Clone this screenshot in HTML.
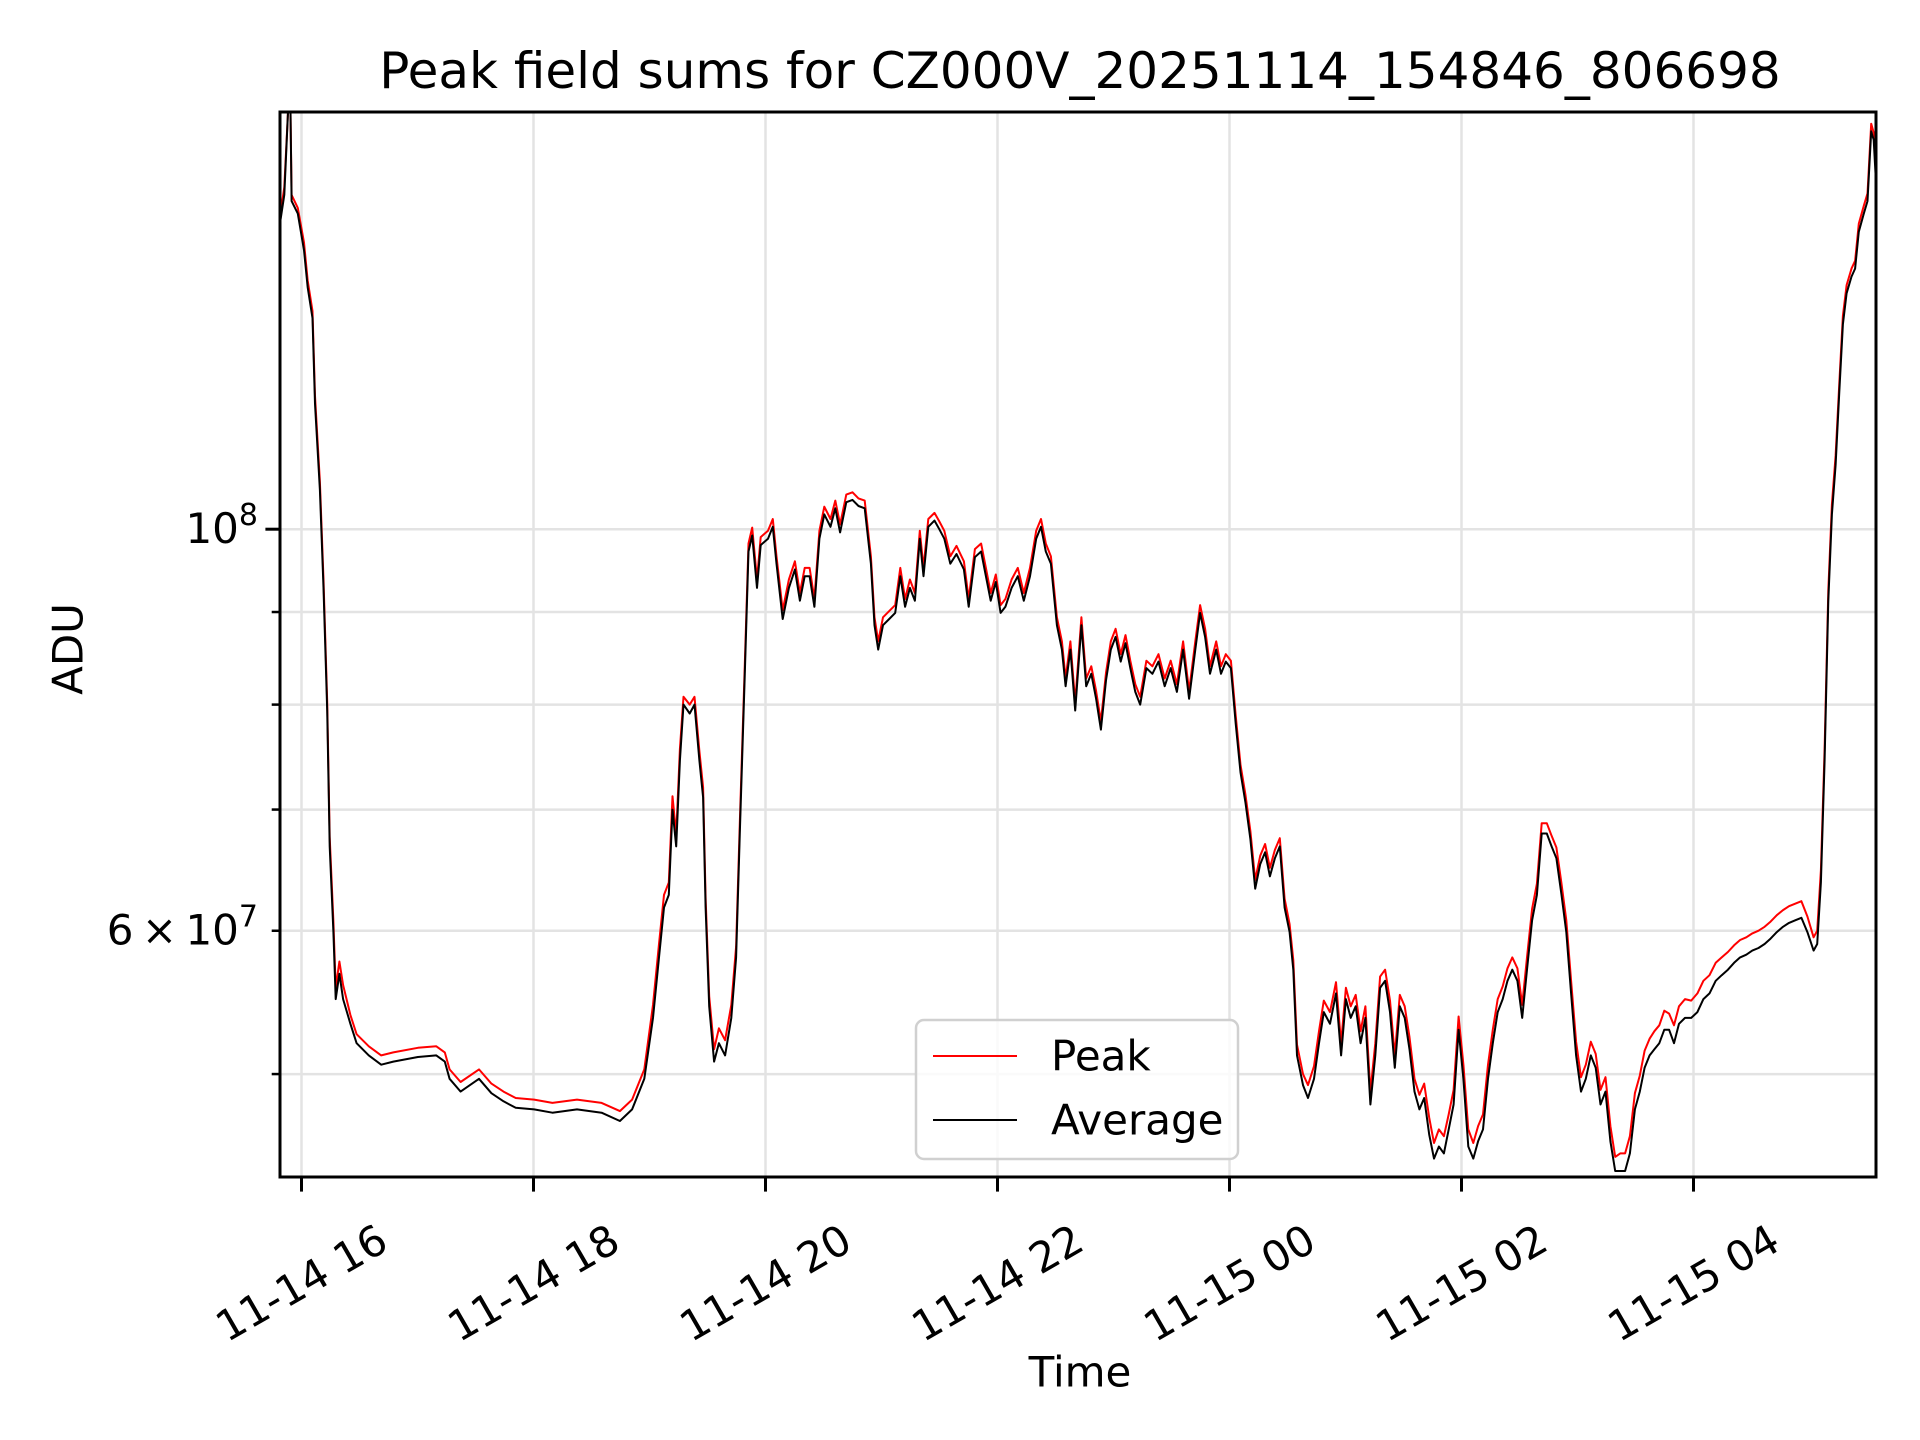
<!DOCTYPE html>
<html><head><meta charset="utf-8"><style>
html,body{margin:0;padding:0;background:#fff;}
svg{display:block;font-family:"DejaVu Sans","Liberation Sans",sans-serif;}
</style></head><body>
<svg id="chart" width="1920" height="1440" viewBox="0 0 1920 1440" xmlns="http://www.w3.org/2000/svg">
<rect width="1920" height="1440" fill="#fff"/>
<text x="1080" y="71" font-size="50" text-anchor="middle" dominant-baseline="central">Peak field sums for CZ000V_20251114_154846_806698</text>
<g id="grid"></g>
<g id="series"></g>
<rect x="280" y="112" width="1596" height="1065" fill="none" stroke="#000" stroke-width="3"/>
<g id="ticks"></g>
<text transform="translate(68,649) rotate(-90)" font-size="42" text-anchor="middle" dominant-baseline="central">ADU</text>
<text x="1080" y="1372" font-size="42" text-anchor="middle" dominant-baseline="central">Time</text>
<g transform="translate(-5,-2)">
<rect x="921" y="1022" width="322" height="139" rx="8" fill="#fff" fill-opacity="0.8" stroke="#d0d0d0" stroke-width="2.5"/>
<line x1="938" y1="1058" x2="1022" y2="1058" stroke="#ff0000" stroke-width="2"/>
<text x="1056" y="1058" font-size="42" dominant-baseline="central">Peak</text>
<line x1="938" y1="1122" x2="1022" y2="1122" stroke="#000" stroke-width="2"/>
<text x="1056" y="1122" font-size="42" dominant-baseline="central">Average</text>
</g>
</svg>
<script>
// minutes relative to 11-14 16:00
const times=[-10.8,-8.9,-7.0,-5.7,-5.1,-1.9,1.3,3.2,5.7,7.0,9.5,11.4,13.3,14.6,16.5,17.7,19.6,21.5,25.3,28.5,34.8,41.2,47.5,60.2,69.7,74.1,76.6,82.3,91.8,98.2,104.5,110.8,120.3,129.8,142.5,155.2,164.7,171.0,177.3,181.8,184.9,187.5,190.0,191.9,193.8,195.7,197.6,200.8,203.3,205.8,207.7,209.0,210.9,213.4,215.9,219.1,222.3,224.8,226.7,229.3,231.2,233.1,235.6,237.5,241.3,243.8,245.7,248.9,252.1,255.2,257.8,260.3,262.8,265.3,267.9,270.4,273.6,276.1,278.6,281.8,285.0,288.1,291.3,294.5,296.4,298.3,300.8,304.0,307.1,309.7,312.2,314.7,317.3,319.8,321.7,324.2,327.4,329.9,332.5,335.6,338.8,342.6,345.1,348.3,351.5,354.0,356.5,359.1,361.6,364.1,367.3,370.5,373.6,376.8,380.0,382.5,385.0,387.6,390.7,393.3,395.2,397.7,400.2,403.4,405.9,408.5,411.0,413.5,416.1,418.6,421.1,423.7,426.2,428.7,431.3,433.8,437.0,440.1,443.3,446.5,449.6,452.8,456.0,459.1,462.3,464.8,467.4,469.9,473.1,475.6,478.1,480.7,483.2,485.7,488.3,490.8,493.3,495.9,498.4,500.9,503.5,506.0,508.5,511.1,513.0,514.9,518.0,520.6,523.7,526.3,528.8,532.0,535.1,537.7,540.2,542.7,545.3,547.8,550.3,552.9,555.4,557.9,560.5,563.0,565.5,568.1,570.6,573.1,575.7,578.2,580.7,583.3,585.8,588.3,590.9,593.4,595.9,598.5,601.0,603.5,606.1,608.6,611.1,613.7,616.2,618.7,621.3,623.8,626.3,628.9,631.4,633.9,636.5,639.0,641.5,644.1,646.6,649.1,651.7,654.2,656.7,659.3,661.8,664.3,666.9,669.4,671.9,674.5,677.0,679.5,682.1,684.6,687.1,689.7,692.2,694.7,697.3,699.8,702.3,704.9,707.4,709.9,712.5,715.6,718.8,722.0,725.1,728.3,731.5,734.6,737.8,741.0,744.1,747.3,750.4,753.6,756.8,759.9,763.1,766.3,769.4,772.6,775.8,778.9,782.1,784.0,785.9,787.8,789.7,791.6,793.5,795.4,797.3,799.2,801.7,803.6,805.5,808.1,810.0,811.9,813.2,814.4];
// Average, units of 1e7 ADU
const average=[14.83,15.30,17.05,17.05,15.18,14.94,14.26,13.60,13.08,11.73,10.51,9.28,7.94,6.68,5.99,5.50,5.68,5.50,5.33,5.20,5.12,5.06,5.08,5.11,5.12,5.08,4.97,4.89,4.97,4.88,4.83,4.79,4.78,4.76,4.78,4.76,4.71,4.78,4.97,5.37,5.80,6.18,6.28,7.00,6.68,7.45,8.00,7.91,8.00,7.45,7.11,6.18,5.45,5.08,5.20,5.12,5.37,5.80,6.79,8.32,9.72,9.92,9.28,9.80,9.88,10.03,9.57,8.92,9.28,9.50,9.13,9.42,9.42,9.06,9.88,10.19,10.03,10.27,9.96,10.35,10.38,10.30,10.27,9.57,8.85,8.58,8.85,8.92,8.99,9.42,9.06,9.28,9.13,9.88,9.42,10.03,10.11,10.00,9.88,9.57,9.69,9.50,9.06,9.65,9.72,9.42,9.13,9.35,8.99,9.06,9.28,9.42,9.13,9.42,9.88,10.03,9.72,9.57,8.85,8.58,8.19,8.58,7.94,8.85,8.19,8.32,8.06,7.75,8.25,8.58,8.72,8.45,8.65,8.38,8.13,8.00,8.38,8.32,8.45,8.19,8.38,8.13,8.58,8.06,8.58,8.99,8.72,8.32,8.58,8.32,8.45,8.38,7.81,7.34,7.06,6.74,6.33,6.53,6.63,6.43,6.58,6.68,6.18,5.99,5.71,5.12,4.93,4.85,4.97,5.20,5.41,5.33,5.54,5.12,5.50,5.37,5.45,5.20,5.37,4.81,5.12,5.58,5.63,5.41,5.04,5.45,5.37,5.16,4.89,4.78,4.85,4.63,4.49,4.56,4.52,4.66,4.81,5.29,4.97,4.56,4.49,4.59,4.66,4.97,5.20,5.41,5.50,5.63,5.71,5.63,5.37,5.71,6.08,6.28,6.79,6.79,6.68,6.58,6.28,5.99,5.54,5.12,4.89,4.97,5.12,5.04,4.81,4.89,4.59,4.42,4.42,4.42,4.52,4.78,4.89,5.04,5.12,5.16,5.20,5.29,5.29,5.20,5.33,5.37,5.37,5.41,5.50,5.54,5.63,5.67,5.71,5.76,5.80,5.82,5.85,5.87,5.90,5.94,5.99,6.03,6.06,6.08,6.10,5.99,5.85,5.90,6.38,7.45,9.13,10.19,10.85,11.91,12.98,13.50,13.79,13.93,14.60,14.94,15.18,16.59,16.41,15.54];
// Peak, units of 1e7 ADU
const peak=[14.95,15.45,17.20,17.20,15.30,15.05,14.40,13.72,13.20,11.85,10.62,9.38,8.03,6.76,6.07,5.58,5.77,5.60,5.39,5.26,5.18,5.12,5.14,5.17,5.18,5.14,5.03,4.95,5.03,4.94,4.89,4.85,4.84,4.82,4.84,4.82,4.77,4.84,5.03,5.46,5.90,6.28,6.38,7.12,6.78,7.56,8.08,8.00,8.08,7.54,7.20,6.26,5.52,5.16,5.30,5.22,5.46,5.88,6.88,8.42,9.82,10.02,9.38,9.90,9.98,10.13,9.66,9.02,9.38,9.60,9.22,9.52,9.52,9.15,9.98,10.29,10.13,10.37,10.06,10.45,10.48,10.40,10.37,9.66,8.94,8.67,8.94,9.01,9.08,9.52,9.15,9.38,9.22,9.98,9.52,10.13,10.21,10.10,9.98,9.66,9.79,9.60,9.15,9.75,9.82,9.52,9.22,9.44,9.08,9.15,9.38,9.52,9.22,9.52,9.98,10.13,9.82,9.66,8.94,8.67,8.27,8.67,8.02,8.94,8.27,8.40,8.14,7.83,8.33,8.67,8.81,8.53,8.74,8.46,8.21,8.08,8.46,8.40,8.53,8.27,8.46,8.21,8.67,8.14,8.67,9.08,8.81,8.40,8.67,8.40,8.53,8.46,7.89,7.41,7.13,6.81,6.40,6.60,6.70,6.50,6.65,6.75,6.25,6.05,5.78,5.19,5.00,4.93,5.05,5.28,5.49,5.41,5.62,5.20,5.58,5.45,5.53,5.28,5.45,4.89,5.20,5.66,5.71,5.49,5.12,5.53,5.45,5.24,4.97,4.87,4.94,4.73,4.58,4.66,4.62,4.75,4.90,5.38,5.06,4.66,4.58,4.68,4.75,5.06,5.29,5.50,5.59,5.72,5.80,5.72,5.46,5.80,6.17,6.37,6.88,6.88,6.77,6.67,6.37,6.08,5.63,5.21,4.98,5.06,5.21,5.13,4.90,4.98,4.68,4.50,4.52,4.52,4.62,4.88,4.99,5.15,5.23,5.28,5.32,5.42,5.40,5.32,5.45,5.50,5.49,5.54,5.63,5.67,5.76,5.80,5.84,5.89,5.93,5.95,5.98,6.00,6.03,6.07,6.12,6.16,6.19,6.21,6.23,6.11,5.95,6.00,6.48,7.56,9.25,10.32,10.98,12.04,13.12,13.64,13.93,14.07,14.75,15.09,15.33,16.75,16.56,15.70];
const xTickMinutes=[0,120,240,360,480,600,720];
const xTickLabels=["11-14 16","11-14 18","11-14 20","11-14 22","11-15 00","11-15 02","11-15 04"];
const yMinorTicks=[5,6,7,8,9];

const NS="http://www.w3.org/2000/svg";
const X0=301.5, PXMIN=116.0/60, Y8=529.2, PXDEC=1810;
const L=280,R=1876,T=112,B=1177;
function xs(m){return X0+m*PXMIN;}
function ys(v){return Y8-(Math.log10(v*1e7)-8)*PXDEC;}
function mk(tag,attrs,parent){const e=document.createElementNS(NS,tag);for(const k in attrs)e.setAttribute(k,attrs[k]);parent.appendChild(e);return e;}
const grid=document.getElementById('grid'),ticks=document.getElementById('ticks'),series=document.getElementById('series');

xTickMinutes.forEach((m,i)=>{
  const x=xs(m);
  const g=mk('line',{x1:x,y1:T,x2:x,y2:B,stroke:'#e3e3e3','stroke-width':2.5},grid);
  
  
  const t=mk('line',{x1:x,y1:B,x2:x,y2:B+14.6,stroke:'#000','stroke-width':3},ticks);
  
  
  const lb=mk('text',{transform:`translate(${x},1283) rotate(-30)`,'font-size':42,'text-anchor':'middle','dominant-baseline':'central'},ticks);
  lb.textContent=xTickLabels[i];
  
  
});
[10].concat(yMinorTicks).forEach((v)=>{
  const y=ys(v);
  const g=mk('line',{x1:L,y1:y,x2:R,y2:y,stroke:'#e3e3e3','stroke-width':2.5},grid);
  
  
  const major=(v===10);
  const t=mk('line',{x1:L-(major?14.6:8.3),y1:y,x2:L,y2:y,stroke:'#000','stroke-width':major?3:2.5},ticks);
  
  
});
function yLabel(y,html,name){
  const t=mk('text',{x:258,y:y+14,'font-size':42,'text-anchor':'end'},ticks);
  t.innerHTML=html;
  
  
}
yLabel(ys(10),'10<tspan dy="-18" font-size="30">8</tspan>','y-tick-label-1e8');
yLabel(ys(6),'6\u2009\u00d7\u200910<tspan dy="-18" font-size="30">7</tspan>','y-tick-label-6e7');

function line(vals,color,name){
  const d=vals.map((v,i)=>(i?'L':'M')+xs(times[i]).toFixed(1)+' '+Math.min(B,Math.max(T,ys(v))).toFixed(1)).join(' ');
  const p=mk('path',{d:d,fill:'none',stroke:color,'stroke-width':2,'stroke-linejoin':'round'},series);
  
  
}
line(peak,'#ff0000','peak-line');
line(average,'#000000','average-line');
</script>
</body></html>
